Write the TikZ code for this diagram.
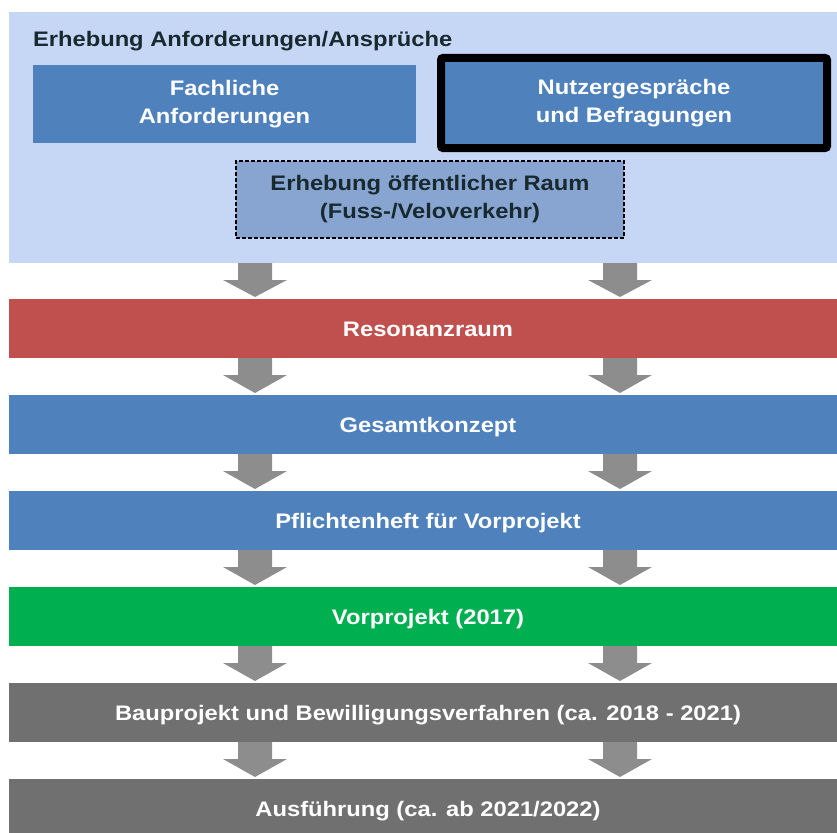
\documentclass[tikz,border=0pt]{standalone}
\usepackage{fontspec}
\setmainfont{Liberation Sans}[FakeStretch=1.13]
\usetikzlibrary{positioning}

\definecolor{panelblue}{HTML}{C6D7F5}
\definecolor{officeblue}{HTML}{4F81BD}
\definecolor{paleblue}{HTML}{87A5D0}
\definecolor{resred}{HTML}{C0504D}
\definecolor{vorgreen}{HTML}{00B050}
\definecolor{baugray}{HTML}{707070}
\definecolor{arrowgray}{HTML}{8D8D8D}
\definecolor{darktext}{HTML}{18292F}

% arrow from the bottom of #2 to the top of #3, on the vertical line through #1
\newcommand{\flowdown}[3]{%
  \path (#1 |- #2.south) coordinate (s) (#1 |- #3.north) coordinate (t);
  \fill[arrowgray] ([xshift=-17pt]s) -- ++(0,17) -- ++(-15,0) -- ([yshift=2pt]t)
    -- ([xshift=32pt,yshift=-17pt]s) -- ++(-15,0) -- ++(0,-17) -- cycle;}

\begin{document}
\begin{tikzpicture}[x=1pt,y=-1pt,
  every node/.style={font=\bfseries\fontsize{21}{28}\selectfont, inner sep=0pt, outer sep=0pt},
  box/.style={fill=officeblue, text=white, align=center},
  band/.style={minimum width=838pt, minimum height=59pt, text=white, text height=15pt, text depth=0pt}]
\useasboundingbox (0,0) rectangle (837,832);
\clip (0,0) rectangle (837,832);

% Erhebung
\node[fill=panelblue, anchor=north west, minimum width=838pt, minimum height=251pt] (panel) at (9,12) {};
\node[anchor=base west, text=darktext] (title) at (33,47) {Erhebung Anforderungen/Ansprüche};
\node[box, minimum width=383pt, minimum height=78pt] (fach) at (224.5,104) {Fachliche\\Anforderungen};
\node[box, draw=black, line width=8pt, rounded corners=2pt, minimum width=386pt, minimum height=90pt] (nutz) at (634,103) {Nutzergespräche\\und Befragungen};
\node[box, fill=paleblue, text=darktext, draw=black, line width=1.5pt, dash pattern=on 4pt off 2pt,
  minimum width=388pt, minimum height=77pt] (raum) at (430,199.5) {Erhebung öffentlicher Raum\\(Fuss-/Veloverkehr)};

% Phasen
\node[band, fill=resred, anchor=north west] (res) at (9,299) {Resonanzraum};
\node[band, fill=officeblue, below=37pt of res] (ges) {Gesamtkonzept};
\node[band, fill=officeblue, below=37pt of ges] (pfl) {Pflichtenheft für Vorprojekt};
\node[band, fill=vorgreen, below=37pt of pfl] (vor) {Vorprojekt (2017)};
\node[band, fill=baugray, below=37pt of vor] (bau) {Bauprojekt und Bewilligungsverfahren (ca. 2018 - 2021)};
\node[band, fill=baugray, below=37pt of bau] (aus) {Ausführung (ca. ab 2021/2022)};

\coordinate (xl) at (255,0);
\coordinate (xr) at (620,0);
\foreach \a/\b in {panel/res, res/ges, ges/pfl, pfl/vor, vor/bau, bau/aus}
  \foreach \x in {xl,xr} {\flowdown{\x}{\a}{\b}}
\end{tikzpicture}
\end{document}
